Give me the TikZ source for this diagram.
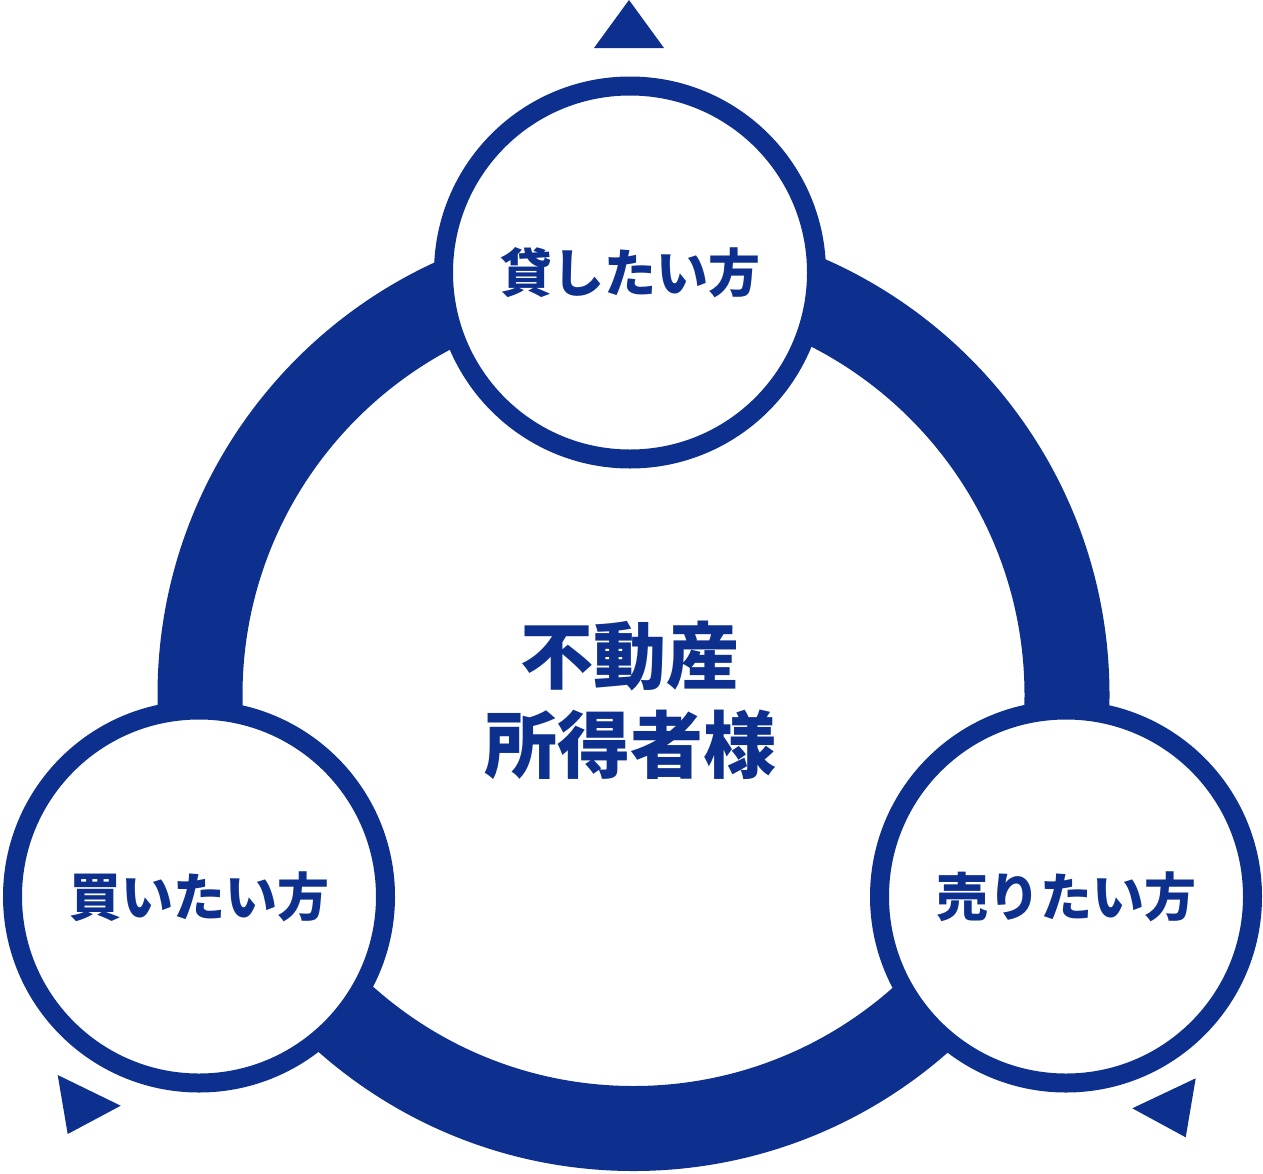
\documentclass[tikz,border=0pt]{standalone}
\usepackage{fontspec}
\newfontfamily\jpfont{Noto Sans CJK JP}
\usetikzlibrary{positioning}
\definecolor{navy}{RGB}{13,48,142}

\begin{document}
\begin{tikzpicture}[
    x=1pt, y=-1pt,
    party/.style={circle, draw=navy, line width=19pt, fill=white,
        minimum size=373pt, inner sep=0pt, text=navy,
        font=\jpfont\bfseries\fontsize{52}{62}\selectfont},
]

\def\ringout{476pt}
\def\ringin{391pt}

\useasboundingbox (0,0) rectangle (1263,1173);

% ===== Ring =====
\coordinate (hub) at (633.5,695);
\fill[navy, even odd rule]
    (hub) circle[radius=\ringout] (hub) circle[radius=\ringin];

% ===== Parties =====
\foreach \nm/\x/\y/\txt in {lend/630/272.5/貸したい方,
    buy/199/896.5/買いたい方, sell/1066/896.5/売りたい方} {
    \node[party] (\nm) at (\x,\y) {\txt};
}

% ===== Centre =====
\node[text=navy, align=center, inner sep=0pt,
    font=\jpfont\bfseries\fontsize{73}{89}\selectfont]
    (owner) at (630,700) {不動産\\所得者様};

% ===== Markers =====
\fill[navy] (629,0) -- (664,48) -- (594,48) -- cycle;
\fill[navy] (57.7,1075) -- (120.7,1105.7) -- (67.7,1134) -- cycle;
\fill[navy] (1195.7,1078.3) -- (1132.3,1108.3) -- (1185.7,1137.3) -- cycle;

\end{tikzpicture}
\end{document}
